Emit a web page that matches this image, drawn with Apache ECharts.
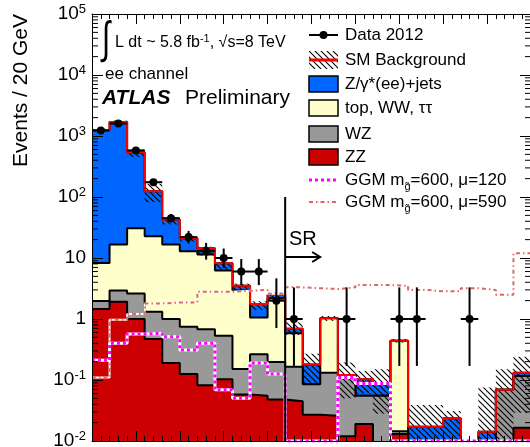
<!DOCTYPE html>
<html>
<head>
<meta charset="utf-8">
<title>Events / 20 GeV - ee channel</title>
<script src="https://cdn.jsdelivr.net/npm/echarts@6.0.0/dist/echarts.min.js"></script>
<style>
html, body { margin: 0; padding: 0; background: #ffffff; }
#chart { width: 530px; height: 447px; }
</style>
</head>
<body>
<div id="chart"></div>
<script>
// 20 GeV bins: lower edges in GeV
const binLow = [0, 20, 40, 60, 80, 100, 120, 140, 160, 180, 200, 220, 240,
                260, 280, 300, 320, 340, 360, 380, 400, 420, 440, 460, 480];
const binWidth = 20;
const srEdge = 220;

// Background expectations per bin (stacked bottom to top: ZZ, WZ, top/WW/tautau, Z+jets)
const zzBkg    = [1.46, 1.92, 1.00, 0.47, 0.19, 0.125, 0.082, 0.103, 0.058, 0.055, 0.048, 0.045, 0.027,
                  0.026, 0.012, 0.019, 0, 0.013, 0, 0, 0, 0, 0, 0, 0.0165];
const wzBkg    = [0.51, 1.00, 1.63, 0.85, 0.81, 0.62, 0.60, 0.43, 0.093, 0.21, 0.15, 0.12, 0.058,
                  0.106, 0.109, 0.036, 0.055, 0.0015, 0, 0, 0, 0, 0, 0.069, 0.10];
const topBkg   = [6.3, 13.7, 28.2, 21.5, 15.6, 12.2, 10.7, 5.7, 2.77, 0.79, 2.0, 0.42, 0,
                  0.90, 0, 0, 0, 0.425, 0, 0, 0, 0, 0, 0, 0];
const zjetsBkg = [1242, 1683, 509, 102, 26.2, 8.1, 3.0, 2.0, 0.60, 0.70, 0.28, 0.104, 0.095,
                  0, 0, 0.048, 0.031, 0, 0.0172, 0.0172, 0.0236, 0, 0.0142, 0, 0.015];

// Total background uncertainty band (lower / upper edge)
const bkgErrLo = [1180, 1610, 455, 82, 35.5, 18.5, 11.0, 6.3, 2.9, 1.4, 1.95, 0.55, 0.09,
                  0.93, 0.05, 0.06, 0.028, 0.41, 0, 0, 0, 0, 0, 0, 0.029];
const bkgErrHi = [1320, 1790, 600, 165, 46, 22.7, 15.3, 8.6, 3.8, 1.95, 2.7, 0.88, 0.27,
                  1.12, 0.194, 0.141, 0.15, 0.47, 0.039, 0.039, 0.031, 0, 0.075, 0.15, 0.24];

// Observed events with Poisson interval edges
const dataCounts = [1230, 1600, 580, 175, 45, 22, 13, 10, 6, 6, 2, 1, 0, 0, 1, 0, 0, 1, 1, 0, 0, 1, 0, 0, 0];
const dataLo     = [1195, 1560, 556, 162, 38.3, 17.3, 9.4, 6.9, 3.6, 3.6, 0.71, 0.17, 0, 0, 0.17, 0, 0,
                    0.17, 0.17, 0, 0, 0.17, 0, 0, 0];
const dataHi     = [1266, 1640, 605, 189, 52.7, 27.8, 17.7, 14.3, 9.6, 9.6, 4.64, 3.3, 0, 0, 3.3, 0, 0,
                    3.3, 3.3, 0, 0, 3.3, 0, 0, 0];

// GGM signal points
const ggm120 = [0.21, 0.40, 0.57, 0.58, 0.51, 0.31, 0.40, 0.069, 0.050, 0.19, 0.125, 0, 0,
                0, 0.11, 0.088, 0.088, 0, 0, 0, 0, 0, 0, 0, 0];
const ggm590 = [0.11, 0.97, 1.21, 1.80, 1.87, 1.87, 2.8, 2.8, 2.9, 3.0, 2.6, 3.3, 3.2,
                3.1, 3.3, 3.6, 3.6, 3.5, 3.0, 2.85, 2.85, 3.2, 3.0, 2.5, 12.0];

const X_MAX = 500;
const yMin = 0.01, yMax = 1e5, yFloor = 1e-3;
const FONT = "'Liberation Sans', Arial, Helvetica, sans-serif";

const C_ZJETS = '#0066ff', C_TOP = '#ffffcc', C_WZ = '#999999', C_ZZ = '#cc0000';
const C_TOTAL = '#ff0000', C_G120 = '#ff00ff', C_G590 = '#e06666';

// Cumulative stacks
const cumZZ  = zzBkg.slice();
const cumWZ  = cumZZ.map((v, i) => v + wzBkg[i]);
const cumTop = cumWZ.map((v, i) => v + topBkg[i]);
const cumAll = cumTop.map((v, i) => v + zjetsBkg[i]);

// Backslash hatch tile
function makeHatch() {
  const c = document.createElement('canvas');
  c.width = 6; c.height = 6;
  const g = c.getContext('2d');
  g.strokeStyle = '#000';
  g.lineWidth = 1.1;
  g.beginPath();
  g.moveTo(-1, -1); g.lineTo(7, 7);
  g.moveTo(5, -1); g.lineTo(7, 1);
  g.moveTo(-1, 5); g.lineTo(1, 7);
  g.stroke();
  return c;
}
const hatchFill = { image: makeHatch(), repeat: 'repeat' };

function stepPoints(vals, floor) {
  const pts = vals.map((v, i) => [binLow[i], Math.max(v, floor)]);
  const last = vals.length - 1;
  pts.push([binLow[last] + binWidth, Math.max(vals[last], floor)]);
  return pts;
}
function stackFill(name, vals, color, z) {
  return {
    name, type: 'line', step: 'end', data: stepPoints(vals, yFloor),
    symbol: 'none', showSymbol: false, silent: true, z,
    lineStyle: { color: '#000', width: 2 },
    areaStyle: { color, opacity: 1, origin: 'start' }
  };
}
function stepLine(name, vals, color, width, dash, z) {
  return {
    name, type: 'line', step: 'end', data: stepPoints(vals, yMin),
    symbol: 'none', showSymbol: false, silent: true, z,
    lineStyle: { color, width, type: dash }
  };
}

const minorTickVals = [];
for (let d = -2; d < 5; d++) {
  for (let m = 2; m <= 9; m++) minorTickVals.push(m * Math.pow(10, d));
}

function yLabel(v) {
  const e = Math.round(Math.log10(v));
  if (e === 0) return '{b|1}';
  if (e === 1) return '{b|10}';
  return '{b|10}{s|' + e + '}';
}

const xAxisBase = {
  type: 'value', min: 0, max: X_MAX, interval: 50, z: 10,
  axisLine: { show: true, onZero: false, lineStyle: { color: '#000', width: 1 } },
  axisTick: { show: true, inside: true, length: 10, lineStyle: { color: '#000', width: 1 } },
  minorTick: { show: true, splitNumber: 5, length: 5, lineStyle: { color: '#000', width: 1 } },
  axisLabel: { show: false },
  splitLine: { show: false },
  minorSplitLine: { show: false }
};
const yAxisBase = {
  type: 'log', logBase: 10, min: yMin, max: yMax, z: 10,
  axisLine: { show: true, onZero: false, lineStyle: { color: '#000', width: 1 } },
  axisTick: { show: true, inside: true, length: 11, lineStyle: { color: '#000', width: 1 } },
  splitLine: { show: false },
  minorTick: { show: false },
  minorSplitLine: { show: false }
};

const chart = echarts.init(document.getElementById('chart'), null, { renderer: 'canvas' });

chart.setOption({
  animation: false,
  backgroundColor: '#ffffff',
  grid: { left: 92, top: 14, width: 439, height: 427, containLabel: false, outerBoundsMode: 'none' },
  xAxis: [
    Object.assign({}, xAxisBase, { position: 'bottom' }),
    Object.assign({}, xAxisBase, { position: 'top' })
  ],
  yAxis: [
    Object.assign({}, yAxisBase, {
      position: 'left',
      axisLabel: {
        show: true, margin: 6, showMinLabel: true, showMaxLabel: true,
        formatter: yLabel,
        rich: {
          b: { fontFamily: FONT, fontSize: 19, color: '#000', lineHeight: 22 },
          s: { fontFamily: FONT, fontSize: 13, color: '#000', lineHeight: 10, verticalAlign: 'top' }
        }
      }
    }),
    Object.assign({}, yAxisBase, { position: 'right', axisLabel: { show: false } })
  ],
  series: [
    stackFill('Z/γ*(ee)+jets', cumAll, C_ZJETS, 1),
    stackFill('top, WW, ττ', cumTop, C_TOP, 2),
    stackFill('WZ', cumWZ, C_WZ, 3),
    stackFill('ZZ', cumZZ, C_ZZ, 4),
    {
      name: 'SM Background', type: 'custom', z: 5, clip: true, silent: true,
      data: binLow.map((x, i) => [x + binWidth / 2, bkgErrHi[i], bkgErrLo[i]]).filter(d => d[1] > 0),
      encode: { x: 0, y: 1 },
      renderItem(params, api) {
        const xc = api.value(0), hi = api.value(1), lo = Math.max(api.value(2), yFloor);
        const a = api.coord([xc - binWidth / 2, hi]);
        const b = api.coord([xc + binWidth / 2, lo]);
        return { type: 'rect', shape: { x: a[0], y: a[1], width: b[0] - a[0], height: b[1] - a[1] },
                 style: { fill: hatchFill } };
      }
    },
    stepLine('SM Background total', cumAll, C_TOTAL, 2, 'solid', 6),
    stepLine('GGM 590 base', ggm590, '#ffffff', 2, 'solid', 7),
    stepLine('GGM m=600, μ=590', ggm590, C_G590, 2, [4, 3, 1.5, 3], 7),
    stepLine('GGM 120 base', ggm120, '#ffffff', 3, 'solid', 7),
    stepLine('GGM m=600, μ=120', ggm120, C_G120, 3, [3, 3], 7),
    {
      name: 'Data 2012', type: 'custom', z: 8, silent: true,
      data: binLow.map((x, i) => [x + binWidth / 2, dataCounts[i], dataLo[i], dataHi[i]]).filter(d => d[1] > 0),
      encode: { x: 0, y: 1 },
      renderItem(params, api) {
        const xc = api.value(0), n = api.value(1);
        const c = api.coord([xc, n]);
        const l = api.coord([xc - binWidth / 2, n]);
        const r = api.coord([xc + binWidth / 2, n]);
        const lo = api.coord([xc, Math.max(api.value(2), yFloor)]);
        const hi = api.coord([xc, api.value(3)]);
        return {
          type: 'group',
          children: [
            { type: 'line', shape: { x1: c[0], y1: hi[1], x2: c[0], y2: lo[1] }, style: { stroke: '#000', lineWidth: 2 } },
            { type: 'line', shape: { x1: l[0], y1: c[1], x2: r[0], y2: c[1] }, style: { stroke: '#000', lineWidth: 2 } },
            { type: 'circle', shape: { cx: c[0], cy: c[1], r: 4 }, style: { fill: '#000' } }
          ]
        };
      }
    },
    {
      name: 'log minor ticks', type: 'custom', z: 12, silent: true, clip: false,
      data: minorTickVals.map(v => [0, v]),
      encode: { x: 0, y: 1 },
      renderItem(params, api) {
        const v = api.value(1);
        const l = api.coord([0, v]);
        const r = api.coord([X_MAX, v]);
        return {
          type: 'group',
          children: [
            { type: 'line', shape: { x1: l[0], y1: l[1], x2: l[0] + 6, y2: l[1] }, style: { stroke: '#000', lineWidth: 1 } },
            { type: 'line', shape: { x1: r[0] - 6, y1: r[1], x2: r[0], y2: r[1] }, style: { stroke: '#000', lineWidth: 1 } }
          ]
        };
      }
    }
  ]
});

// Annotations and legend
const srX = chart.convertToPixel({ xAxisIndex: 0 }, srEdge);
const yBottom = chart.convertToPixel({ yAxisIndex: 0 }, yMin);

function txt(x, y, text, size, extra) {
  return { type: 'text', x, y, z: 20, silent: true,
    style: Object.assign({ text, fontFamily: FONT, fontSize: size, fill: '#000', align: 'left', verticalAlign: 'middle' }, extra || {}) };
}

const LX0 = 309, LX1 = 338, TX = 345;
const legendRows = [35, 60, 84, 108, 134, 157, 180, 202];
const boxH = 16;
function legendBox(row, color) {
  return { type: 'rect', z: 20, silent: true,
    shape: { x: LX0, y: row - boxH / 2, width: LX1 - LX0, height: boxH },
    style: { fill: color, stroke: '#000', lineWidth: 1.5 } };
}
function legendLine(row, color, width, dash) {
  return { type: 'line', z: 20, silent: true,
    shape: { x1: LX0, y1: row, x2: LX1, y2: row },
    style: { stroke: color, lineWidth: width, lineDash: dash } };
}

const graphics = [
  // Y axis title
  { type: 'text', x: 21, y: 14, rotation: Math.PI / 2, z: 20, silent: true,
    style: { text: 'Events / 20 GeV', fontFamily: FONT, fontSize: 21, fill: '#000', align: 'right', verticalAlign: 'middle' } },
  // Luminosity and energy
  { type: 'text', x: 106, y: 41, z: 20, silent: true, scaleY: 1.5,
    style: { text: '∫', fontFamily: FONT, fontSize: 30, fill: '#000', align: 'center', verticalAlign: 'middle' } },
  txt(115, 43, '{a|L dt ~ 5.8 fb}{s|-1}{a|, √s=8 TeV}', 16, {
    rich: {
      a: { fontFamily: FONT, fontSize: 16, fill: '#000', lineHeight: 20 },
      s: { fontFamily: FONT, fontSize: 11, fill: '#000', lineHeight: 10, verticalAlign: 'top' }
    }
  }),
  txt(105, 74, 'ee channel', 17),
  txt(102, 98, 'ATLAS', 21, { fontWeight: 'bold', fontStyle: 'italic' }),
  txt(185, 98, 'Preliminary', 21),
  // Signal region marker
  { type: 'line', z: 20, silent: true, shape: { x1: srX, y1: 197, x2: srX, y2: yBottom }, style: { stroke: '#000', lineWidth: 2 } },
  { type: 'polyline', z: 20, silent: true, shape: { points: [[srX, 257], [srX + 35, 257]] }, style: { stroke: '#000', lineWidth: 2, fill: null } },
  { type: 'polyline', z: 20, silent: true, shape: { points: [[srX + 27, 252], [srX + 35, 257], [srX + 27, 262]] }, style: { stroke: '#000', lineWidth: 2, fill: null } },
  txt(289, 239, 'SR', 20),

  // Legend: data
  legendLine(legendRows[0], '#000', 2),
  { type: 'circle', z: 21, silent: true, shape: { cx: (LX0 + LX1) / 2, cy: legendRows[0], r: 4 }, style: { fill: '#000' } },
  txt(TX, legendRows[0], 'Data 2012', 17),
  // Legend: total background
  { type: 'rect', z: 20, silent: true, shape: { x: LX0, y: legendRows[1] - 9, width: LX1 - LX0, height: 18 }, style: { fill: hatchFill } },
  legendLine(legendRows[1], C_TOTAL, 3),
  txt(TX, legendRows[1], 'SM Background', 17),
  // Legend: components
  legendBox(legendRows[2], C_ZJETS), txt(TX, legendRows[2], 'Z/γ*(ee)+jets', 17),
  legendBox(legendRows[3], C_TOP), txt(TX, legendRows[3], 'top, WW, ττ', 17),
  legendBox(legendRows[4], C_WZ), txt(TX, legendRows[4], 'WZ', 17),
  legendBox(legendRows[5], C_ZZ), txt(TX, legendRows[5], 'ZZ', 17),
  // Legend: signals
  legendLine(legendRows[6], '#ffffff', 3),
  legendLine(legendRows[6], C_G120, 3, [3, 3]),
  txt(TX, legendRows[6], '{a|GGM m}{g|g̃}{a|=600, μ=120}', 17, {
    rich: {
      a: { fontFamily: FONT, fontSize: 17, fill: '#000', lineHeight: 24 },
      g: { fontFamily: FONT, fontSize: 11, fill: '#000', lineHeight: 12, verticalAlign: 'bottom' }
    }
  }),
  legendLine(legendRows[7], C_G590, 2, [4, 3, 1.5, 3]),
  txt(TX, legendRows[7], '{a|GGM m}{g|g̃}{a|=600, μ=590}', 17, {
    rich: {
      a: { fontFamily: FONT, fontSize: 17, fill: '#000', lineHeight: 24 },
      g: { fontFamily: FONT, fontSize: 11, fill: '#000', lineHeight: 12, verticalAlign: 'bottom' }
    }
  })
];

chart.setOption({ graphic: { elements: graphics } });
</script>
</body>
</html>
